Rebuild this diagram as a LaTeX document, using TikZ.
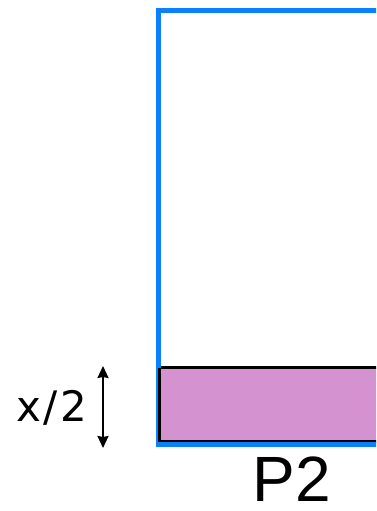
\documentclass[tikz,border=0pt]{standalone}
\usepackage{fontspec}
\setmainfont{Liberation Sans}
\newfontfamily\dvs{DejaVu Sans}
\usetikzlibrary{arrows.meta}
\definecolor{pageblue}{HTML}{0A80FF}
\definecolor{partpink}{HTML}{D492D0}
\tikzset{
  pageline/.style={draw=pageblue, line width=5pt},
  partbox/.style={draw=black, fill=partpink, line width=2.8pt},
  dimarrow/.style={line width=2pt, {Stealth[length=12pt,width=11pt,inset=1pt]}-{Stealth[length=12pt,width=11pt,inset=1pt]}},
}
\begin{document}
\begin{tikzpicture}[x=1pt,y=-1pt]
\useasboundingbox (0,0) rectangle (376,511);
\clip (0,0) rectangle (376,511);
\coordinate (pagetl) at (158,10.5);
\coordinate (pagebr) at (420,444.2);
\coordinate (parttl) at (159.6,367.5);
\coordinate (partbl) at (159.6,441.5);
\coordinate (partbr) at (420,441.5);
\draw[partbox] (parttl) rectangle (partbr);
\draw[pageline] (pagetl) rectangle (pagebr);
\draw[draw=black, line width=2.8pt] (parttl) -- (partbl);
\coordinate (atop) at (103,366);
\coordinate (abot) at (103,448);
\draw[dimarrow] (atop) -- (abot);
\node[inner sep=0pt] (xlab) at (52,408) {\dvs\fontsize{42}{42}\selectfont x\kern2.5pt/\kern2.5pt2};
\node[inner sep=0pt] (plab) at (292,479) {\fontsize{64}{64}\selectfont P2};
\end{tikzpicture}
\end{document}
